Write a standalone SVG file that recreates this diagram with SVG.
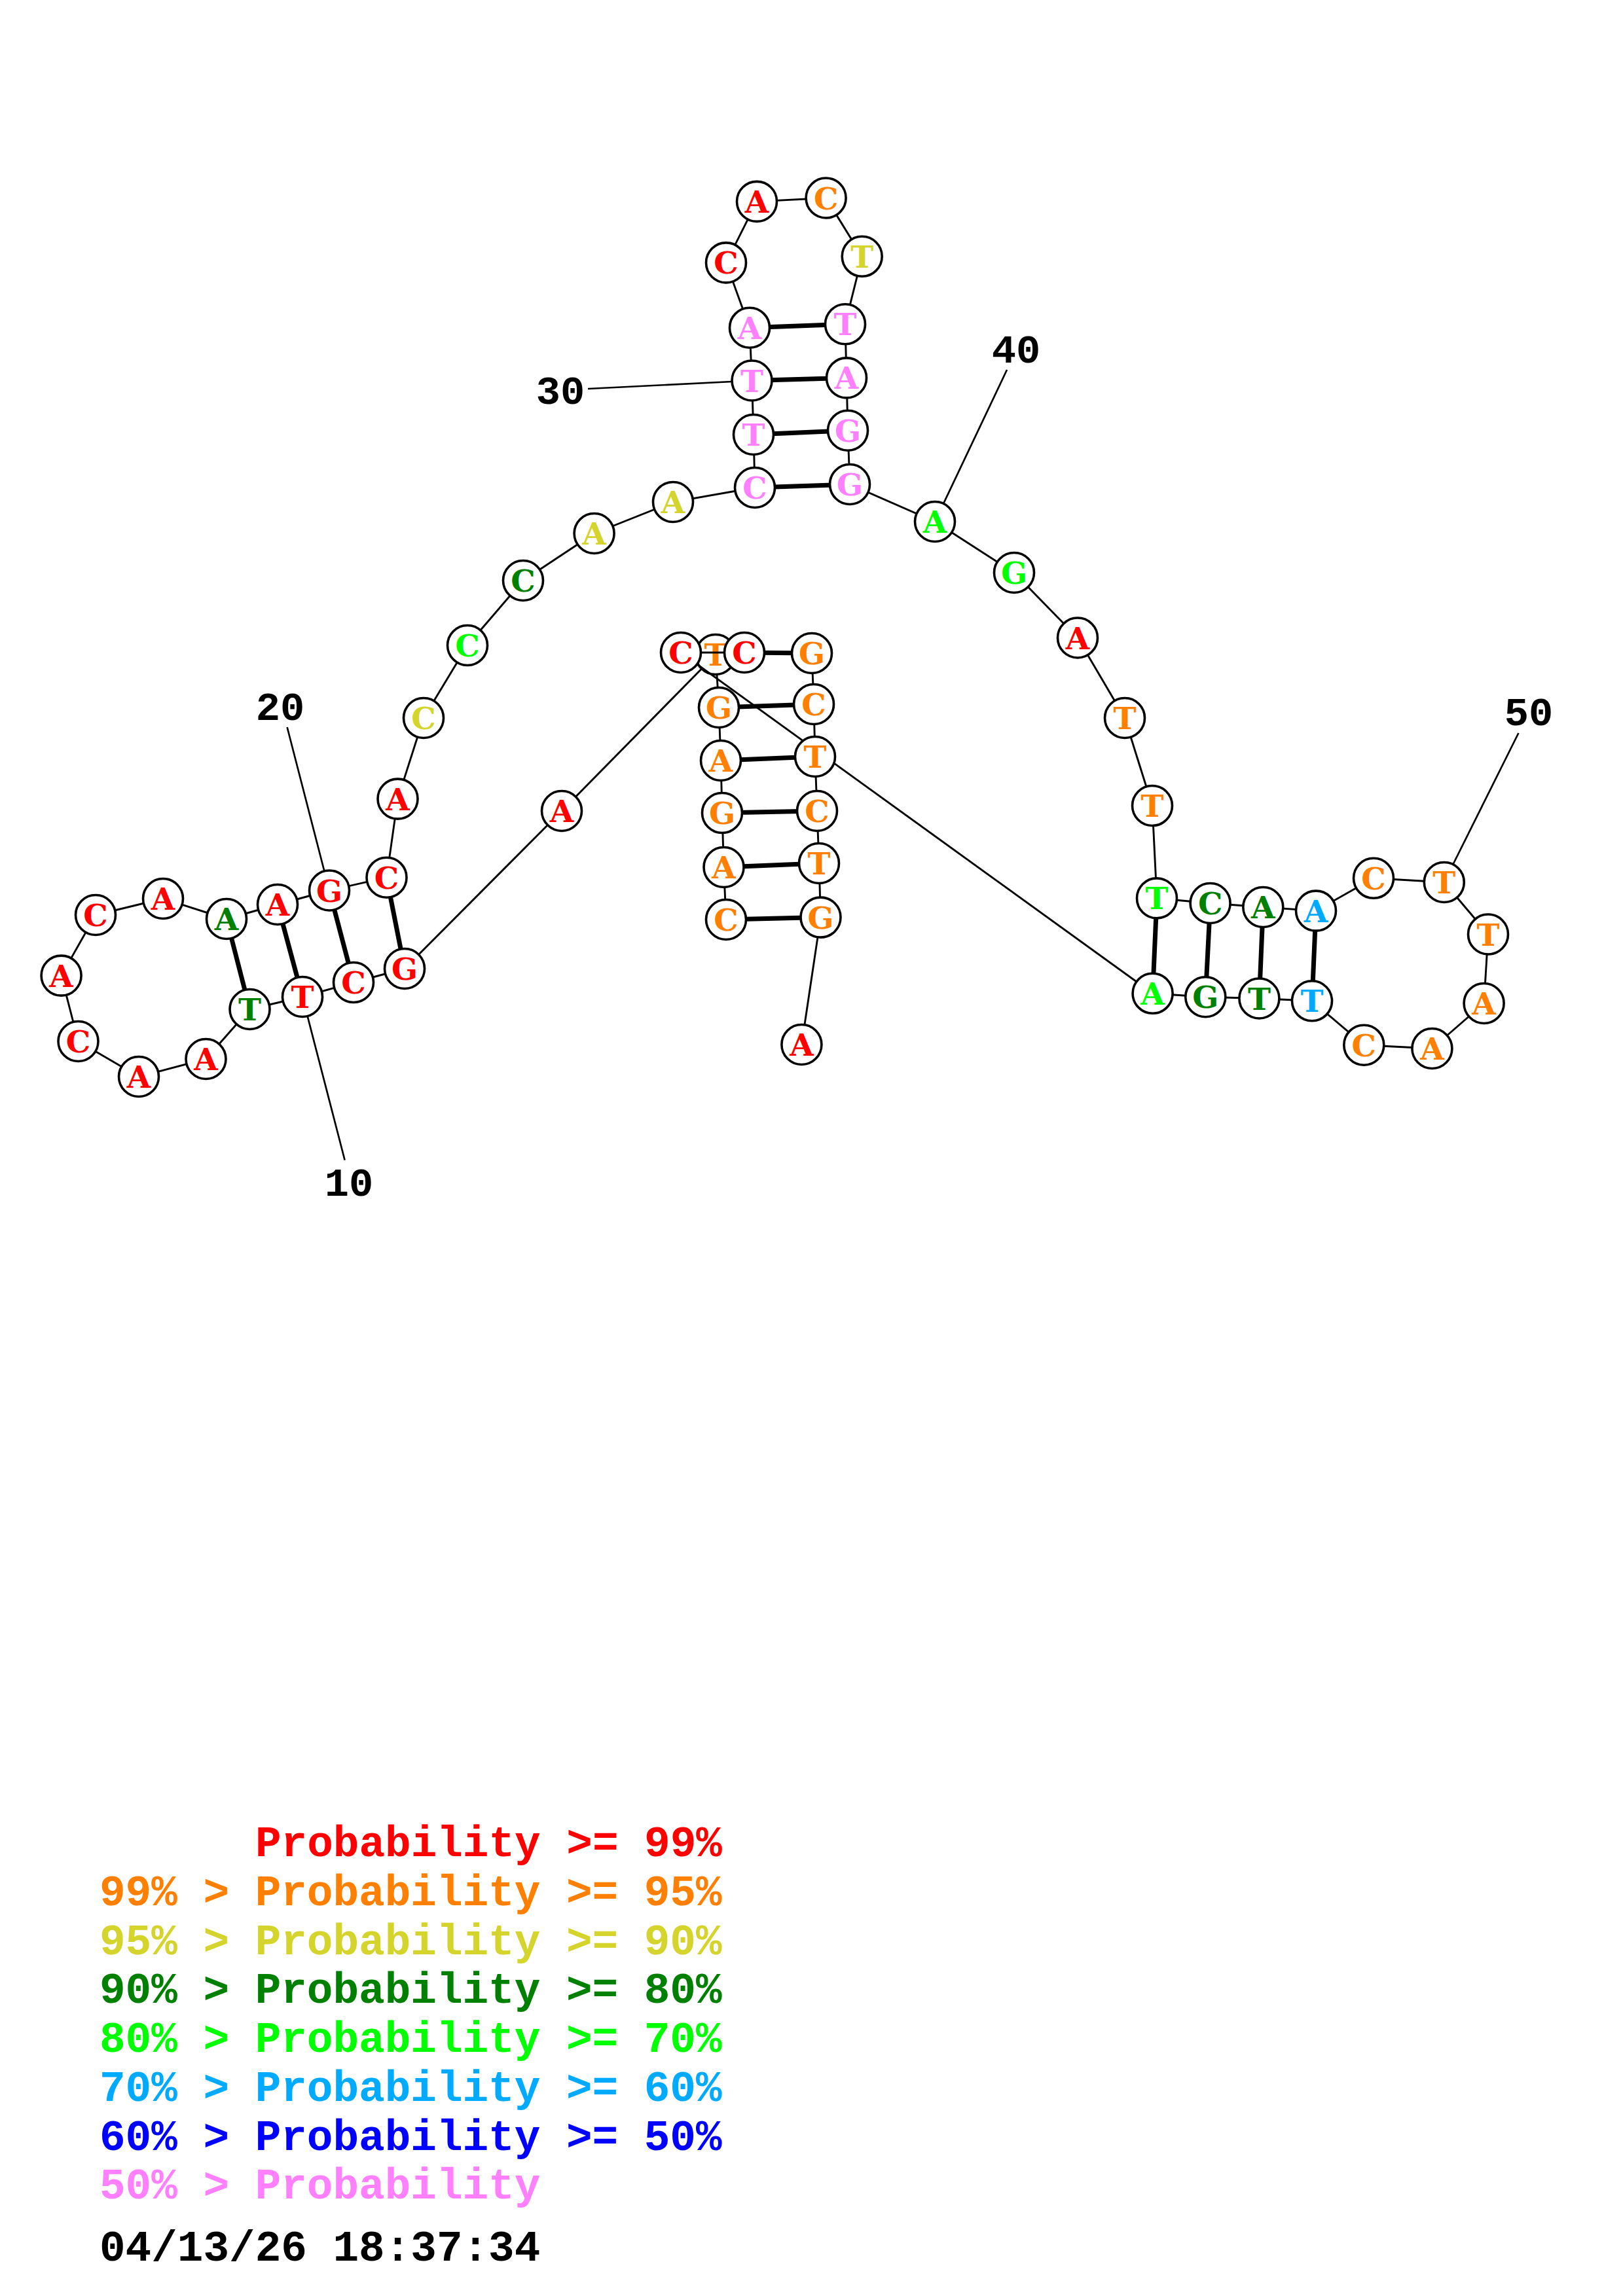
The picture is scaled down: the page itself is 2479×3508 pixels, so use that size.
<svg xmlns="http://www.w3.org/2000/svg" width="2479" height="3508" viewBox="0 0 2479 3508">
<style>
.bb{stroke:#000;stroke-width:2.9;fill:none}
.pr{stroke:#000;stroke-width:7;fill:none}
.ll{stroke:#000;stroke-width:2.7;fill:none}
circle{fill:#fff;stroke:#000;stroke-width:3.6}
.nt{font-family:"DejaVu Serif",serif;font-weight:bold;font-size:47px;text-anchor:middle}
.num{font-family:"Liberation Mono",monospace;font-weight:bold;font-size:62px;text-anchor:middle;fill:#000}
.lg{font-family:"Liberation Mono",monospace;font-weight:bold;font-size:66px}
.r{fill:#ff0000}.o{fill:#ff8000}.y{fill:#d4d42c}.dg{fill:#008000}.g{fill:#00ff00}.lb{fill:#00aaff}.b{fill:#0000ff}.p{fill:#ff80ff}.k{fill:#000}
</style>
<rect width="2479" height="3508" fill="#fff"/>
<g id="n6"><circle cx="1093" cy="1000" r="30.5"/><text class="nt o" x="1093" y="1017">T</text></g>
<g id="connectors">
<line class="bb" x1="1109" y1="1405" x2="1105.5" y2="1325"/>
<line class="bb" x1="1105.5" y1="1325" x2="1103" y2="1242"/>
<line class="bb" x1="1103" y1="1242" x2="1101" y2="1162"/>
<line class="bb" x1="1101" y1="1162" x2="1098" y2="1081"/>
<line class="bb" x1="1098" y1="1081" x2="1095" y2="1031"/>
<line class="bb" x1="1071" y1="1022.5" x2="858" y2="1239"/>
<line class="bb" x1="858" y1="1239" x2="618" y2="1480"/>
<line class="bb" x1="618" y1="1480" x2="540" y2="1501"/>
<line class="bb" x1="540" y1="1501" x2="462" y2="1523"/>
<line class="bb" x1="462" y1="1523" x2="381.5" y2="1542"/>
<line class="bb" x1="381.5" y1="1542" x2="314.5" y2="1618"/>
<line class="bb" x1="314.5" y1="1618" x2="212" y2="1645"/>
<line class="bb" x1="212" y1="1645" x2="119.5" y2="1591"/>
<line class="bb" x1="119.5" y1="1591" x2="93.6" y2="1490.6"/>
<line class="bb" x1="93.6" y1="1490.6" x2="146" y2="1398"/>
<line class="bb" x1="146" y1="1398" x2="249" y2="1373"/>
<line class="bb" x1="249" y1="1373" x2="346" y2="1404"/>
<line class="bb" x1="346" y1="1404" x2="424" y2="1382"/>
<line class="bb" x1="424" y1="1382" x2="503" y2="1360.5"/>
<line class="bb" x1="503" y1="1360.5" x2="590.5" y2="1340.7"/>
<line class="bb" x1="590.5" y1="1340.7" x2="607.5" y2="1220.6"/>
<line class="bb" x1="607.5" y1="1220.6" x2="647" y2="1097"/>
<line class="bb" x1="647" y1="1097" x2="714" y2="986"/>
<line class="bb" x1="714" y1="986" x2="799" y2="887"/>
<line class="bb" x1="799" y1="887" x2="907.6" y2="815"/>
<line class="bb" x1="907.6" y1="815" x2="1028" y2="767"/>
<line class="bb" x1="1028" y1="767" x2="1153" y2="745"/>
<line class="bb" x1="1153" y1="745" x2="1151" y2="664"/>
<line class="bb" x1="1151" y1="664" x2="1148.5" y2="581.5"/>
<line class="bb" x1="1148.5" y1="581.5" x2="1145" y2="500.7"/>
<line class="bb" x1="1145" y1="500.7" x2="1109" y2="401.4"/>
<line class="bb" x1="1109" y1="401.4" x2="1156" y2="307.9"/>
<line class="bb" x1="1156" y1="307.9" x2="1261.6" y2="302.5"/>
<line class="bb" x1="1261.6" y1="302.5" x2="1316.7" y2="391.8"/>
<line class="bb" x1="1316.7" y1="391.8" x2="1291" y2="495.3"/>
<line class="bb" x1="1291" y1="495.3" x2="1293" y2="577.4"/>
<line class="bb" x1="1293" y1="577.4" x2="1295" y2="657.7"/>
<line class="bb" x1="1295" y1="657.7" x2="1298" y2="740"/>
<line class="bb" x1="1298" y1="740" x2="1428" y2="797"/>
<line class="bb" x1="1428" y1="797" x2="1549" y2="875"/>
<line class="bb" x1="1549" y1="875" x2="1646" y2="974.5"/>
<line class="bb" x1="1646" y1="974.5" x2="1718" y2="1097"/>
<line class="bb" x1="1718" y1="1097" x2="1760" y2="1231"/>
<line class="bb" x1="1760" y1="1231" x2="1767" y2="1372.4"/>
<line class="bb" x1="1767" y1="1372.4" x2="1848.6" y2="1380"/>
<line class="bb" x1="1848.6" y1="1380" x2="1929.3" y2="1386"/>
<line class="bb" x1="1929.3" y1="1386" x2="2010" y2="1391.6"/>
<line class="bb" x1="2010" y1="1391.6" x2="2098" y2="1341.8"/>
<line class="bb" x1="2098" y1="1341.8" x2="2205.8" y2="1348"/>
<line class="bb" x1="2205.8" y1="1348" x2="2273" y2="1427.5"/>
<line class="bb" x1="2273" y1="1427.5" x2="2266.6" y2="1533"/>
<line class="bb" x1="2266.6" y1="1533" x2="2187.4" y2="1602"/>
<line class="bb" x1="2187.4" y1="1602" x2="2083.3" y2="1596.7"/>
<line class="bb" x1="2083.3" y1="1596.7" x2="2004" y2="1529.3"/>
<line class="bb" x1="2004" y1="1529.3" x2="1923.4" y2="1525.5"/>
<line class="bb" x1="1923.4" y1="1525.5" x2="1841.3" y2="1523.2"/>
<line class="bb" x1="1841.3" y1="1523.2" x2="1760.6" y2="1517.8"/>
<line class="bb" x1="1760.6" y1="1517.8" x2="1040" y2="997"/>
<line class="bb" x1="1040" y1="997" x2="1137" y2="997"/>
<line class="bb" x1="1137" y1="997" x2="1240" y2="998"/>
<line class="bb" x1="1240" y1="998" x2="1243" y2="1076"/>
<line class="bb" x1="1243" y1="1076" x2="1245" y2="1156"/>
<line class="bb" x1="1245" y1="1156" x2="1248" y2="1239"/>
<line class="bb" x1="1248" y1="1239" x2="1251" y2="1319"/>
<line class="bb" x1="1251" y1="1319" x2="1253.5" y2="1401.6"/>
<line class="bb" x1="1253.5" y1="1401.6" x2="1224.4" y2="1596"/>
<line class="pr" x1="1109" y1="1405" x2="1253.5" y2="1401.6"/>
<line class="pr" x1="1105.5" y1="1325" x2="1251" y2="1319"/>
<line class="pr" x1="1103" y1="1242" x2="1248" y2="1239"/>
<line class="pr" x1="1101" y1="1162" x2="1245" y2="1156"/>
<line class="pr" x1="1098" y1="1081" x2="1243" y2="1076"/>
<line class="pr" x1="1137" y1="997" x2="1240" y2="998"/>
<line class="pr" x1="618" y1="1480" x2="590.5" y2="1340.7"/>
<line class="pr" x1="540" y1="1501" x2="503" y2="1360.5"/>
<line class="pr" x1="462" y1="1523" x2="424" y2="1382"/>
<line class="pr" x1="381.5" y1="1542" x2="346" y2="1404"/>
<line class="pr" x1="1153" y1="745" x2="1298" y2="740"/>
<line class="pr" x1="1151" y1="664" x2="1295" y2="657.7"/>
<line class="pr" x1="1148.5" y1="581.5" x2="1293" y2="577.4"/>
<line class="pr" x1="1145" y1="500.7" x2="1291" y2="495.3"/>
<line class="pr" x1="1767" y1="1372.4" x2="1760.6" y2="1517.8"/>
<line class="pr" x1="1848.6" y1="1380" x2="1841.3" y2="1523.2"/>
<line class="pr" x1="1929.3" y1="1386" x2="1923.4" y2="1525.5"/>
<line class="pr" x1="2010" y1="1391.6" x2="2004" y2="1529.3"/>
<line class="ll" x1="898" y1="594" x2="1148.5" y2="581.5"/>
<line class="ll" x1="1538" y1="565" x2="1428" y2="797"/>
<line class="ll" x1="438.6" y1="1111" x2="503" y2="1360.5"/>
<line class="ll" x1="526.6" y1="1772.5" x2="462" y2="1523"/>
<line class="ll" x1="2319.4" y1="1120" x2="2205.8" y2="1348"/>
</g>
<g id="n1"><circle cx="1109" cy="1405" r="30.5"/><text class="nt o" x="1109" y="1422">C</text></g>
<g id="n2"><circle cx="1105.5" cy="1325" r="30.5"/><text class="nt o" x="1105.5" y="1342">A</text></g>
<g id="n3"><circle cx="1103" cy="1242" r="30.5"/><text class="nt o" x="1103" y="1259">G</text></g>
<g id="n4"><circle cx="1101" cy="1162" r="30.5"/><text class="nt o" x="1101" y="1179">A</text></g>
<g id="n5"><circle cx="1098" cy="1081" r="30.5"/><text class="nt o" x="1098" y="1098">G</text></g>
<g id="n7"><circle cx="858" cy="1239" r="30.5"/><text class="nt r" x="858" y="1256">A</text></g>
<g id="n8"><circle cx="618" cy="1480" r="30.5"/><text class="nt r" x="618" y="1497">G</text></g>
<g id="n9"><circle cx="540" cy="1501" r="30.5"/><text class="nt r" x="540" y="1518">C</text></g>
<g id="n10"><circle cx="462" cy="1523" r="30.5"/><text class="nt r" x="462" y="1540">T</text></g>
<g id="n11"><circle cx="381.5" cy="1542" r="30.5"/><text class="nt dg" x="381.5" y="1559">T</text></g>
<g id="n12"><circle cx="314.5" cy="1618" r="30.5"/><text class="nt r" x="314.5" y="1635">A</text></g>
<g id="n13"><circle cx="212" cy="1645" r="30.5"/><text class="nt r" x="212" y="1662">A</text></g>
<g id="n14"><circle cx="119.5" cy="1591" r="30.5"/><text class="nt r" x="119.5" y="1608">C</text></g>
<g id="n15"><circle cx="93.6" cy="1490.6" r="30.5"/><text class="nt r" x="93.6" y="1507.6">A</text></g>
<g id="n16"><circle cx="146" cy="1398" r="30.5"/><text class="nt r" x="146" y="1415">C</text></g>
<g id="n17"><circle cx="249" cy="1373" r="30.5"/><text class="nt r" x="249" y="1390">A</text></g>
<g id="n18"><circle cx="346" cy="1404" r="30.5"/><text class="nt dg" x="346" y="1421">A</text></g>
<g id="n19"><circle cx="424" cy="1382" r="30.5"/><text class="nt r" x="424" y="1399">A</text></g>
<g id="n20"><circle cx="503" cy="1360.5" r="30.5"/><text class="nt r" x="503" y="1377.5">G</text></g>
<g id="n21"><circle cx="590.5" cy="1340.7" r="30.5"/><text class="nt r" x="590.5" y="1357.7">C</text></g>
<g id="n22"><circle cx="607.5" cy="1220.6" r="30.5"/><text class="nt r" x="607.5" y="1237.6">A</text></g>
<g id="n23"><circle cx="647" cy="1097" r="30.5"/><text class="nt y" x="647" y="1114">C</text></g>
<g id="n24"><circle cx="714" cy="986" r="30.5"/><text class="nt g" x="714" y="1003">C</text></g>
<g id="n25"><circle cx="799" cy="887" r="30.5"/><text class="nt dg" x="799" y="904">C</text></g>
<g id="n26"><circle cx="907.6" cy="815" r="30.5"/><text class="nt y" x="907.6" y="832">A</text></g>
<g id="n27"><circle cx="1028" cy="767" r="30.5"/><text class="nt y" x="1028" y="784">A</text></g>
<g id="n28"><circle cx="1153" cy="745" r="30.5"/><text class="nt p" x="1153" y="762">C</text></g>
<g id="n29"><circle cx="1151" cy="664" r="30.5"/><text class="nt p" x="1151" y="681">T</text></g>
<g id="n30"><circle cx="1148.5" cy="581.5" r="30.5"/><text class="nt p" x="1148.5" y="598.5">T</text></g>
<g id="n31"><circle cx="1145" cy="500.7" r="30.5"/><text class="nt p" x="1145" y="517.7">A</text></g>
<g id="n32"><circle cx="1109" cy="401.4" r="30.5"/><text class="nt r" x="1109" y="418.4">C</text></g>
<g id="n33"><circle cx="1156" cy="307.9" r="30.5"/><text class="nt r" x="1156" y="324.9">A</text></g>
<g id="n34"><circle cx="1261.6" cy="302.5" r="30.5"/><text class="nt o" x="1261.6" y="319.5">C</text></g>
<g id="n35"><circle cx="1316.7" cy="391.8" r="30.5"/><text class="nt y" x="1316.7" y="408.8">T</text></g>
<g id="n36"><circle cx="1291" cy="495.3" r="30.5"/><text class="nt p" x="1291" y="512.3">T</text></g>
<g id="n37"><circle cx="1293" cy="577.4" r="30.5"/><text class="nt p" x="1293" y="594.4">A</text></g>
<g id="n38"><circle cx="1295" cy="657.7" r="30.5"/><text class="nt p" x="1295" y="674.7">G</text></g>
<g id="n39"><circle cx="1298" cy="740" r="30.5"/><text class="nt p" x="1298" y="757">G</text></g>
<g id="n40"><circle cx="1428" cy="797" r="30.5"/><text class="nt g" x="1428" y="814">A</text></g>
<g id="n41"><circle cx="1549" cy="875" r="30.5"/><text class="nt g" x="1549" y="892">G</text></g>
<g id="n42"><circle cx="1646" cy="974.5" r="30.5"/><text class="nt r" x="1646" y="991.5">A</text></g>
<g id="n43"><circle cx="1718" cy="1097" r="30.5"/><text class="nt o" x="1718" y="1114">T</text></g>
<g id="n44"><circle cx="1760" cy="1231" r="30.5"/><text class="nt o" x="1760" y="1248">T</text></g>
<g id="n45"><circle cx="1767" cy="1372.4" r="30.5"/><text class="nt g" x="1767" y="1389.4">T</text></g>
<g id="n46"><circle cx="1848.6" cy="1380" r="30.5"/><text class="nt dg" x="1848.6" y="1397">C</text></g>
<g id="n47"><circle cx="1929.3" cy="1386" r="30.5"/><text class="nt dg" x="1929.3" y="1403">A</text></g>
<g id="n48"><circle cx="2010" cy="1391.6" r="30.5"/><text class="nt lb" x="2010" y="1408.6">A</text></g>
<g id="n49"><circle cx="2098" cy="1341.8" r="30.5"/><text class="nt o" x="2098" y="1358.8">C</text></g>
<g id="n50"><circle cx="2205.8" cy="1348" r="30.5"/><text class="nt o" x="2205.8" y="1365">T</text></g>
<g id="n51"><circle cx="2273" cy="1427.5" r="30.5"/><text class="nt o" x="2273" y="1444.5">T</text></g>
<g id="n52"><circle cx="2266.6" cy="1533" r="30.5"/><text class="nt o" x="2266.6" y="1550">A</text></g>
<g id="n53"><circle cx="2187.4" cy="1602" r="30.5"/><text class="nt o" x="2187.4" y="1619">A</text></g>
<g id="n54"><circle cx="2083.3" cy="1596.7" r="30.5"/><text class="nt o" x="2083.3" y="1613.7">C</text></g>
<g id="n55"><circle cx="2004" cy="1529.3" r="30.5"/><text class="nt lb" x="2004" y="1546.3">T</text></g>
<g id="n56"><circle cx="1923.4" cy="1525.5" r="30.5"/><text class="nt dg" x="1923.4" y="1542.5">T</text></g>
<g id="n57"><circle cx="1841.3" cy="1523.2" r="30.5"/><text class="nt dg" x="1841.3" y="1540.2">G</text></g>
<g id="n58"><circle cx="1760.6" cy="1517.8" r="30.5"/><text class="nt g" x="1760.6" y="1534.8">A</text></g>
<g id="n59"><circle cx="1040" cy="997" r="30.5"/><text class="nt r" x="1040" y="1014">C</text></g>
<g id="n60"><circle cx="1137" cy="997" r="30.5"/><text class="nt r" x="1137" y="1014">C</text></g>
<g id="n61"><circle cx="1240" cy="998" r="30.5"/><text class="nt o" x="1240" y="1015">G</text></g>
<g id="n62"><circle cx="1243" cy="1076" r="30.5"/><text class="nt o" x="1243" y="1093">C</text></g>
<g id="n63"><circle cx="1245" cy="1156" r="30.5"/><text class="nt o" x="1245" y="1173">T</text></g>
<g id="n64"><circle cx="1248" cy="1239" r="30.5"/><text class="nt o" x="1248" y="1256">C</text></g>
<g id="n65"><circle cx="1251" cy="1319" r="30.5"/><text class="nt o" x="1251" y="1336">T</text></g>
<g id="n66"><circle cx="1253.5" cy="1401.6" r="30.5"/><text class="nt o" x="1253.5" y="1418.6">G</text></g>
<g id="n67"><circle cx="1224.4" cy="1596" r="30.5"/><text class="nt r" x="1224.4" y="1613">A</text></g>
<g id="labels">
<text class="num" x="856" y="617">30</text>
<text class="num" x="1552" y="554">40</text>
<text class="num" x="428" y="1100">20</text>
<text class="num" x="533" y="1827">10</text>
<text class="num" x="2335" y="1108">50</text>
</g>
<g id="legend">
<text class="lg r" x="390" y="2836">Probability &gt;= 99%</text>
<text class="lg o" x="152" y="2911">99% &gt; Probability &gt;= 95%</text>
<text class="lg y" x="152" y="2986">95% &gt; Probability &gt;= 90%</text>
<text class="lg dg" x="152" y="3060">90% &gt; Probability &gt;= 80%</text>
<text class="lg g" x="152" y="3135">80% &gt; Probability &gt;= 70%</text>
<text class="lg lb" x="152" y="3210">70% &gt; Probability &gt;= 60%</text>
<text class="lg b" x="152" y="3285">60% &gt; Probability &gt;= 50%</text>
<text class="lg p" x="152" y="3359">50% &gt; Probability</text>
<text class="lg k" x="152" y="3454">04/13/26 18:37:34</text>
</g>
</svg>
